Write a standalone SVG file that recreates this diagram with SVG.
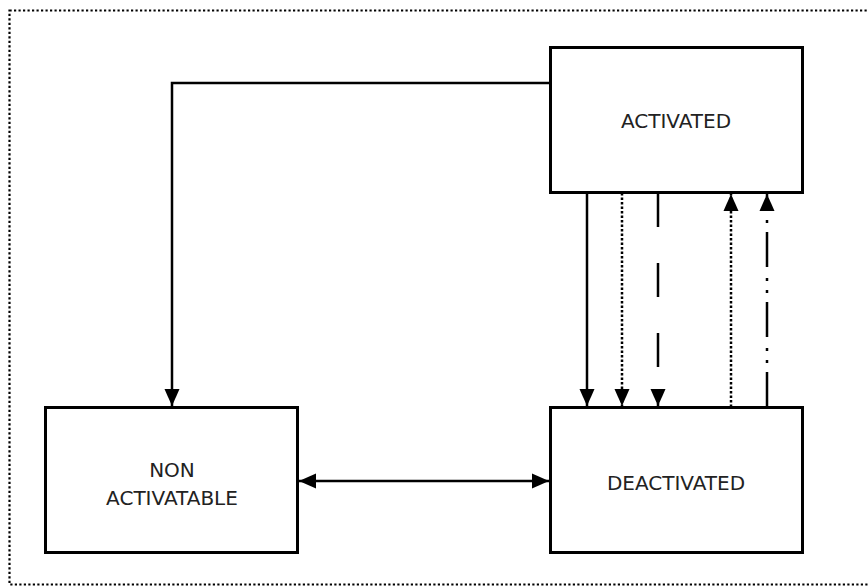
<svg xmlns="http://www.w3.org/2000/svg" width="868" height="588" viewBox="0 0 868 588">
<style>
.box{fill:#fff;stroke:#000;stroke-width:3}
.lbl{font-family:"DejaVu Sans",sans-serif;font-size:20px;fill:#222;text-anchor:middle}
.c{fill:none;stroke:#000;stroke-width:2.5}
.dot{stroke-dasharray:2.5,2}
</style>
<defs>
<marker id="ah" markerUnits="userSpaceOnUse" markerWidth="18" markerHeight="16" refX="17" refY="7.5" orient="auto-start-reverse" viewBox="0 0 18 15">
<path d="M0,0 L17,7.5 L0,15 z" fill="#000"/>
</marker>
</defs>
<rect x="9.5" y="10.5" width="880" height="574" fill="#fff" stroke="#000" stroke-width="2.2" stroke-dasharray="2.2,2.3"/>
<g id="connectors">
<path class="c" d="M550,83 H172 V406" marker-end="url(#ah)"/>
<path class="c" d="M299,481 H549" marker-start="url(#ah)" marker-end="url(#ah)"/>
<path class="c" d="M587,193 V406" marker-end="url(#ah)"/>
<path class="c dot" d="M622,193 V406" marker-end="url(#ah)"/>
<path class="c" d="M658,193 V406" stroke-dasharray="34,36" marker-end="url(#ah)"/>
<path class="c dot" d="M731,407 V194" marker-end="url(#ah)"/>
<path class="c" d="M767,407 V194" stroke-dasharray="35,9,3,9,3,11" marker-end="url(#ah)"/>
</g>
<g id="activated">
<rect class="box" x="550.5" y="47.5" width="252" height="145"/>
<text class="lbl" x="676" y="128">ACTIVATED</text>
</g>
<g id="non-activatable">
<rect class="box" x="45.5" y="407.5" width="252" height="145"/>
<text class="lbl" x="172" y="477">NON</text>
<text class="lbl" x="172" y="505">ACTIVATABLE</text>
</g>
<g id="deactivated">
<rect class="box" x="550.5" y="407.5" width="252" height="145"/>
<text class="lbl" x="676" y="490">DEACTIVATED</text>
</g>
</svg>
